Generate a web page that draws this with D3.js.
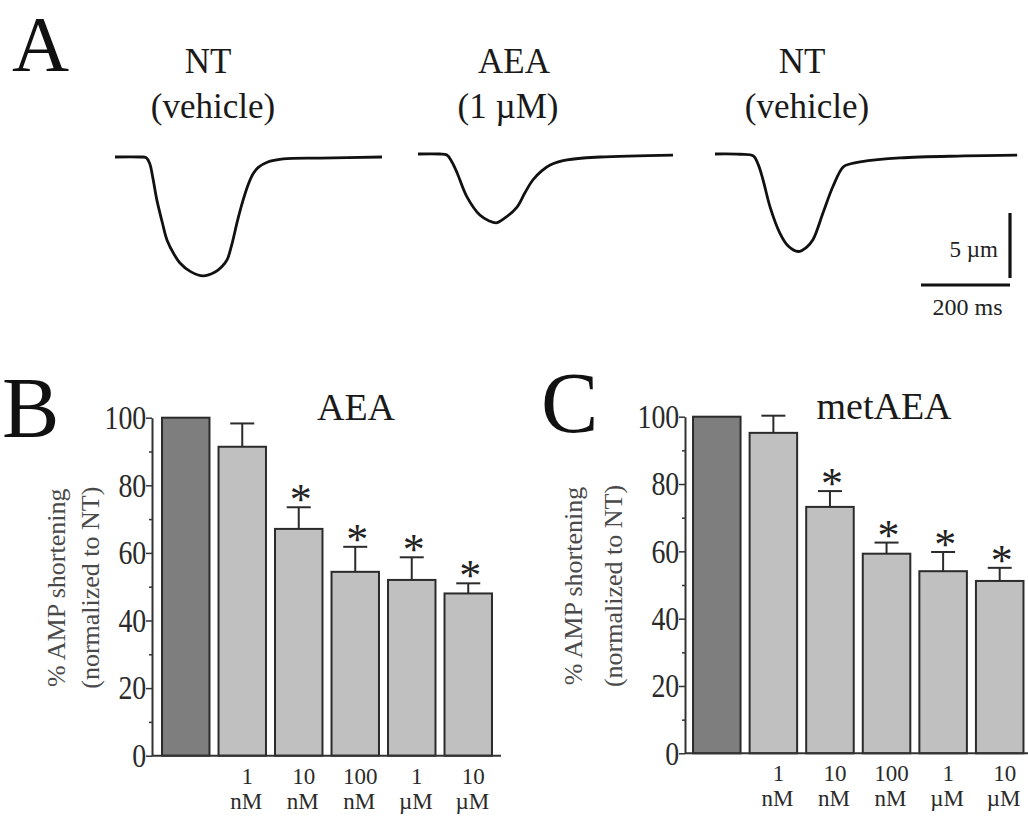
<!DOCTYPE html>
<html lang="en">
<head>
<meta charset="UTF-8">
<title>AEA / metAEA cell shortening</title>
<script src="https://cdn.jsdelivr.net/npm/d3@7"></script>
<style>
  body { margin: 0; background: #fff; }
  svg text { font-family: "Liberation Serif", "Times New Roman", serif; }
</style>
</head>
<body>
<script>
// ---- panel A: shortening traces, [time ms, shortening µm] ----
var traceNT1 = [[0,0],[56,0],[70,0.05],[78,0.5],[85,1.6],[94,3.3],[106,5.0],[117,6.4],[133,7.5],[146,8.15],
  [169,8.8],[198,9.15],[225,8.85],[240,8.45],[252,7.9],[262,6.8],[276,4.8],[288,3.3],[299,2.15],
  [310,1.3],[322,0.8],[342,0.4],[378,0.15],[461,0.08],[600,0]];
var traceAEA = [[0,0],[49,0],[65,0.08],[76,0.6],[88,1.46],[110,3.3],[139,4.7],[160,5.15],[176,5.3],
  [190,5.05],[222,4.1],[240,3.0],[258,2.0],[278,1.3],[297,0.85],[335,0.46],[409,0.23],[573,0.08]];
var traceNT2 = [[0,0],[56,0.02],[86,0.15],[97,0.8],[108,2.0],[124,4.1],[146,6.1],[165,7.1],[187,7.5],
  [205,7.2],[220,6.6],[243,4.5],[265,2.5],[288,1.0],[305,0.75],[326,0.6],[416,0.3],[560,0.15],[679,0.08]];
var traceTitles = [["NT", "(vehicle)"], ["AEA", "(1 µM)"], ["NT", "(vehicle)"]];
var scaleBarMs = 200, scaleBarUm = 5;

// ---- panels B and C: % AMP shortening (normalized to NT) ----
var conc = ["", "1", "10", "100", "1", "10"];
var units = ["", "nM", "nM", "nM", "µM", "µM"];
var aeaMean = [100, 91.4, 67.1, 54.4, 52.0, 48.0];
var aeaErr = [0, 6.9, 6.4, 7.4, 6.7, 3.0];
var aeaStar = [false, false, true, true, true, true];
var metMean = [100, 95.2, 73.2, 59.3, 54.1, 51.2];
var metErr = [0, 5.1, 4.7, 3.3, 5.7, 3.9];
var metStar = [false, false, true, true, true, true];
var yTicks = [0, 20, 40, 60, 80, 100];
var yMinor = [10, 30, 50, 70, 90];

var svg = d3.select('body').append('svg')
    .attr('width', 1028)
    .attr('height', 818);

svg.append('rect').attr('width', 1028).attr('height', 818).attr('fill', '#fff');

function letter(txt, x, y, size) {
  svg.append('text')
    .attr('x', x).attr('y', y)
    .attr('font-size', size)
    .attr('fill', '#111')
    .text(txt);
}

// ---------- A ----------
letter('A', 12, 70, 79);

var tx = d3.scaleLinear().domain([0, 200]).range([0, 89]);
var ty = d3.scaleLinear().domain([0, 5]).range([0, 65]);

var line = d3.line()
    .x(d => tx(d[0]))
    .y(d => ty(d[1]))
    .curve(d3.curveCatmullRom.alpha(0.5));

// where each trace sits and where its two-line title is centred
var traceSpots = [
  {x: 115, y: 157, t1: 93, t2: 98},
  {x: 418, y: 154, t1: 96, t2: 90},
  {x: 715, y: 154, t1: 87, t2: 92}
];
var traces = [traceNT1, traceAEA, traceNT2];

traces.forEach(function (tr, i) {
  var s = traceSpots[i];
  var g = svg.append('g').attr('transform', 'translate(' + s.x + ',' + s.y + ')');
  g.append('path')
    .attr('d', line(tr))
    .attr('fill', 'none')
    .attr('stroke', '#111')
    .attr('stroke-width', 2.8)
    .attr('stroke-linejoin', 'round');
  g.append('text')
    .attr('x', s.t1).attr('y', 73 - s.y)
    .attr('text-anchor', 'middle')
    .attr('font-size', 35)
    .attr('fill', '#1a1a1a')
    .text(traceTitles[i][0]);
  g.append('text')
    .attr('x', s.t2).attr('y', 118 - s.y)
    .attr('text-anchor', 'middle')
    .attr('font-size', 35)
    .attr('fill', '#1a1a1a')
    .text(traceTitles[i][1]);
});

// scale bar
var sb = svg.append('g').attr('transform', 'translate(1010,285)');
sb.append('line')
  .attr('x1', 0).attr('x2', 0)
  .attr('y1', -7).attr('y2', -7 - ty(scaleBarUm))
  .attr('stroke', '#111').attr('stroke-width', 3.2);
sb.append('line')
  .attr('x1', 0).attr('x2', -tx(scaleBarMs))
  .attr('y1', 0).attr('y2', 0)
  .attr('stroke', '#111').attr('stroke-width', 3.2);
sb.append('text')
  .attr('x', -12).attr('y', -28)
  .attr('text-anchor', 'end')
  .attr('font-size', 23)
  .attr('fill', '#222')
  .text(scaleBarUm + ' µm');
sb.append('text')
  .attr('x', -tx(scaleBarMs) / 2 + 2).attr('y', 30)
  .attr('text-anchor', 'middle')
  .attr('font-size', 24)
  .attr('fill', '#222')
  .text(scaleBarMs + ' ms');

// ---------- B and C ----------
function barPanel(o) {
  var g = svg.append('g');
  var x = d3.scaleBand()
      .domain(d3.range(o.mean.length))
      .range(o.xr)
      .paddingInner(0.16)
      .paddingOuter(0.08);
  var y = d3.scaleLinear().domain([0, 100]).range(o.yr);
  var rows = o.mean.map((m, i) => ({m: m, e: o.err[i], i: i}));

  // bars
  g.selectAll('.bar')
    .data(o.mean)
    .enter()
    .append('rect')
      .attr('class', 'bar')
      .attr('x', (d, i) => x(i))
      .attr('y', d => y(d))
      .attr('width', x.bandwidth())
      .attr('height', d => y(0) - y(d))
      .attr('fill', (d, i) => i === 0 ? '#7e7e7e' : '#c0c0c0')
      .attr('stroke', '#2b2b2b')
      .attr('stroke-width', 2);

  // error bars (upper half only)
  var eb = g.selectAll('.err')
    .data(rows.filter(d => d.e > 0))
    .enter()
    .append('g').attr('class', 'err');
  eb.append('line')
    .attr('x1', d => x(d.i) + x.bandwidth() / 2)
    .attr('x2', d => x(d.i) + x.bandwidth() / 2)
    .attr('y1', d => y(d.m))
    .attr('y2', d => y(d.m + d.e))
    .attr('stroke', '#2b2b2b').attr('stroke-width', 2);
  eb.append('line')
    .attr('x1', d => x(d.i) + x.bandwidth() / 2 - 12)
    .attr('x2', d => x(d.i) + x.bandwidth() / 2 + 12)
    .attr('y1', d => y(d.m + d.e))
    .attr('y2', d => y(d.m + d.e))
    .attr('stroke', '#2b2b2b').attr('stroke-width', 2);

  // significance stars
  g.selectAll('.star')
    .data(rows.filter(d => o.star[d.i]))
    .enter()
    .append('text')
      .attr('class', 'star')
      .attr('x', d => x(d.i) + x.bandwidth() / 2 + 2)
      .attr('y', d => y(d.m + d.e) + 7)
      .attr('text-anchor', 'middle')
      .attr('font-size', 44)
      .attr('fill', '#222')
      .text('*');

  // y axis
  var yAx = g.append('g')
    .attr('transform', 'translate(' + o.axX + ',0)')
    .call(d3.axisLeft(y).tickValues(yTicks).tickSize(6).tickSizeOuter(0).tickPadding(1));
  yAx.select('.domain').attr('stroke', '#333').attr('stroke-width', 2);
  yAx.selectAll('.tick line').attr('stroke', '#333').attr('stroke-width', 1.5);
  yAx.selectAll('.tick text')
    .attr('font-size', 34)
    .attr('fill', '#2a2a2a')
    .attr('transform', 'scale(0.82,1)');
  var yMin = g.append('g')
    .attr('transform', 'translate(' + o.axX + ',0)')
    .call(d3.axisLeft(y).tickValues(yMinor).tickSize(3).tickFormat(''));
  yMin.select('.domain').remove();
  yMin.selectAll('.tick line').attr('stroke', '#333').attr('stroke-width', 1.5);

  // x axis baseline
  g.append('line')
    .attr('x1', o.axX).attr('x2', o.axEnd)
    .attr('y1', y(0)).attr('y2', y(0))
    .attr('stroke', '#333').attr('stroke-width', 2);

  // category labels (two lines)
  g.selectAll('.conc')
    .data(conc)
    .enter()
    .append('text')
      .attr('x', (d, i) => x(i) + x.bandwidth() / 2 + 5)
      .attr('y', y(0) + 28)
      .attr('text-anchor', 'middle')
      .attr('font-size', 23)
      .attr('fill', '#2a2a2a')
      .text(d => d);
  g.selectAll('.unit')
    .data(units)
    .enter()
    .append('text')
      .attr('x', (d, i) => x(i) + x.bandwidth() / 2 + 4)
      .attr('y', y(0) + 53)
      .attr('text-anchor', 'middle')
      .attr('font-size', 23)
      .attr('fill', '#2a2a2a')
      .text(d => d);

  // y title
  var yl = y(50) + 1;
  g.append('text')
    .attr('transform', 'translate(' + o.lab1 + ',' + yl + ') rotate(-90)')
    .attr('text-anchor', 'middle')
    .attr('font-size', 26)
    .attr('fill', '#4a4a4a')
    .text('% AMP shortening');
  g.append('text')
    .attr('transform', 'translate(' + o.lab2 + ',' + yl + ') rotate(-90)')
    .attr('text-anchor', 'middle')
    .attr('font-size', 26)
    .attr('fill', '#4a4a4a')
    .text('(normalized to NT)');

  // panel title
  g.append('text')
    .attr('x', o.titleX).attr('y', y(100) + 2)
    .attr('text-anchor', 'middle')
    .attr('font-size', 38)
    .attr('fill', '#1a1a1a')
    .text(o.title);
}

letter('B', 2, 437, 86);
barPanel({
  mean: aeaMean, err: aeaErr, star: aeaStar, title: 'AEA',
  xr: [157.5, 496.5], yr: [755.7, 417.7], axX: 152, axEnd: 501,
  lab1: 65, lab2: 99, titleX: 356
});

letter('C', 541, 432, 86);
barPanel({
  mean: metMean, err: metErr, star: metStar, title: 'metAEA',
  xr: [688.5, 1028], yr: [753.3, 416.7], axX: 685, axEnd: 1028,
  lab1: 582, lab2: 622, titleX: 884
});
</script>
</body>
</html>
